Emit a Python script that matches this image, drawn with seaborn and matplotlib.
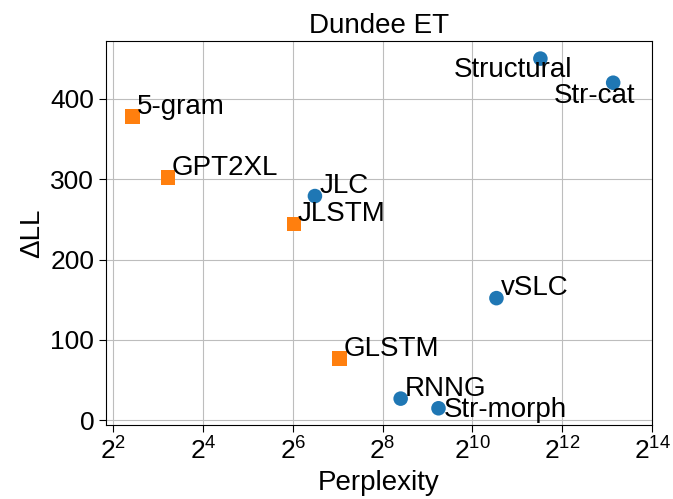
import numpy as np
import pandas as pd
import matplotlib
matplotlib.use("Agg")
import matplotlib.pyplot as plt
import seaborn as sns

# values
models = ['5-gram', 'GPT2XL', 'JLSTM', 'GLSTM', 'JLC', 'RNNG', 'Str-morph', 'vSLC', 'Structural', 'Str-cat']
perplexity = [5.4, 9.3, 65, 132, 90, 338, 606, 1482, 2920, 8980]
delta_ll = [378, 302, 244, 77, 279, 27, 15, 152, 450, 420]
kind = ['lm', 'lm', 'lm', 'lm', 'struct', 'struct', 'struct', 'struct', 'struct', 'struct']

df = pd.DataFrame({'model': models, 'ppl': perplexity, 'dll': delta_ll, 'kind': kind})

sns.set_style("ticks", {"axes.grid": True, "grid.color": "#bdbdbd"})
plt.rcParams['font.family'] = ['Liberation Sans', 'DejaVu Sans']
plt.rcParams.update({'axes.edgecolor': 'black', 'text.color': 'black',
                     'axes.labelcolor': 'black', 'xtick.color': 'black',
                     'ytick.color': 'black'})

fig = plt.figure(figsize=(6.73, 4.99), dpi=100)
ax = fig.add_axes([0.1575, 0.148, 0.8115, 0.77])

sns.scatterplot(data=df, x='ppl', y='dll', hue='kind', style='kind',
                palette={'lm': '#ff7f0e', 'struct': '#1f77b4'},
                markers={'lm': 's', 'struct': 'o'}, s=110, edgecolor='none',
                legend=False, ax=ax, zorder=3)

ax.set_xscale('log', base=2)
ax.set_xlim(2 ** 1.84, 2 ** 14)
ax.set_ylim(-6, 472)
ax.set_xticks([2 ** k for k in range(2, 15, 2)])
ax.set_yticks([0, 100, 200, 300, 400])
ax.tick_params(labelsize=19, length=5)

# label offsets in points
offsets = {'Structural': (23, 1, 'right', 'top'),
           'Str-cat': (16, 0, 'right', 'top'),
           'Str-morph': (4, -6, 'left', 'baseline')}
for _, r in df.iterrows():
    dx, dy, ha, va = offsets.get(r['model'], (3, 2, 'left', 'baseline'))
    ax.annotate(r['model'], (r['ppl'], r['dll']), xytext=(dx, dy),
                textcoords='offset points', ha=ha, va=va, fontsize=20, zorder=4)

ax.set_xlabel('Perplexity', fontsize=20)
ax.set_ylabel('ΔLL', fontsize=20)
ax.set_title('Dundee ET', fontsize=20)

fig.savefig('out.png', dpi=100)
